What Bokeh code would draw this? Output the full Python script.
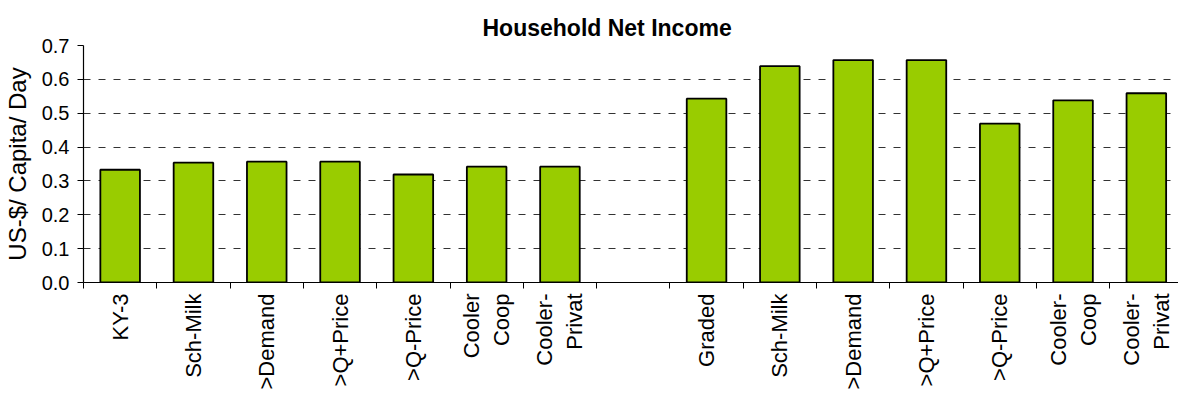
import math
from bokeh.plotting import figure
from bokeh.models import Range1d, FixedTicker, ColumnDataSource, NumeralTickFormatter
from bokeh.embed import file_html
from bokeh.resources import INLINE

categories = ["KY-3", "Sch-Milk", ">Demand", ">Q+Price", ">Q-Price", "Cooler\nCoop", "Cooler-\nPrivat", "",
              "Graded", "Sch-Milk", ">Demand", ">Q+Price", ">Q-Price", "Cooler-\nCoop", "Cooler-\nPrivat"]
values = [0.333, 0.354, 0.357, 0.357, 0.319, 0.342, 0.342, None,
          0.543, 0.639, 0.657, 0.657, 0.469, 0.538, 0.559]
y_ticks = [0.0, 0.1, 0.2, 0.3, 0.4, 0.5, 0.6, 0.7]
title_text = "Household Net Income"
y_label = "US-$/ Capita/ Day"

FONT = "Liberation Sans"
cat_w = 73.3
W, H = 1178, 394
LEFT = 83
frame_w = W - LEFT

centers = [i + 0.5 for i in range(len(categories))]
bx = [c for c, v in zip(centers, values) if v is not None]
bv = [v for v in values if v is not None]
src = ColumnDataSource(dict(x=bx, top=bv))

p = figure(width=W, height=H, output_backend="svg", toolbar_location=None,
           x_range=Range1d(0, frame_w / cat_w), y_range=Range1d(0, 0.7),
           min_border_left=LEFT, min_border_right=0, min_border_top=45, min_border_bottom=112)
p.outline_line_color = None
p.background_fill_color = "white"
p.border_fill_color = "white"

p.vbar(x="x", top="top", bottom=0, width=0.54, source=src,
       fill_color="#99CC00", line_color="black", line_width=1.8)

p.title.text = title_text
p.title.text_font = FONT
p.title.text_font_size = "23px"
p.title.text_font_style = "bold"
p.title.align = "left"
p.title.offset = 399
p.title.text_color = "black"

# x axis
xa = p.xaxis[0]
xa.ticker = FixedTicker(ticks=centers, minor_ticks=list(range(len(categories) + 1)))
xa.major_label_overrides = {c: lab for c, lab in zip(centers, categories)}
xa.major_label_orientation = math.pi / 2
xa.major_label_text_font = FONT
xa.major_label_text_font_size = "22px"
xa.major_label_text_color = "black"
xa.major_label_standoff = 5
xa.major_tick_out = 0
xa.major_tick_in = 0
xa.minor_tick_out = 6
xa.minor_tick_in = 0
xa.minor_tick_line_color = "black"
xa.axis_line_color = "black"
xa.axis_line_width = 1.2

# y axis
ya = p.yaxis[0]
ya.ticker = FixedTicker(ticks=y_ticks)
ya.formatter = NumeralTickFormatter(format="0.0")
ya.major_label_text_font = FONT
ya.major_label_text_font_size = "20px"
ya.major_label_text_color = "black"
ya.major_label_standoff = 8
ya.major_tick_out = 6
ya.major_tick_in = 0
ya.major_tick_line_color = "black"
ya.minor_tick_line_color = None
ya.axis_line_color = "black"
ya.axis_line_width = 1.2
ya.axis_label = y_label
ya.axis_label_text_font = FONT
ya.axis_label_text_font_size = "24px"
ya.axis_label_text_font_style = "normal"
ya.axis_label_text_color = "black"
ya.axis_label_standoff = 8

p.xgrid.grid_line_color = None
p.ygrid.ticker = FixedTicker(ticks=y_ticks[1:])
p.ygrid.grid_line_color = "#333333"
p.ygrid.grid_line_dash = "7 8"
p.ygrid.grid_line_width = 1

open("out.html", "w").write(file_html(p, INLINE))
